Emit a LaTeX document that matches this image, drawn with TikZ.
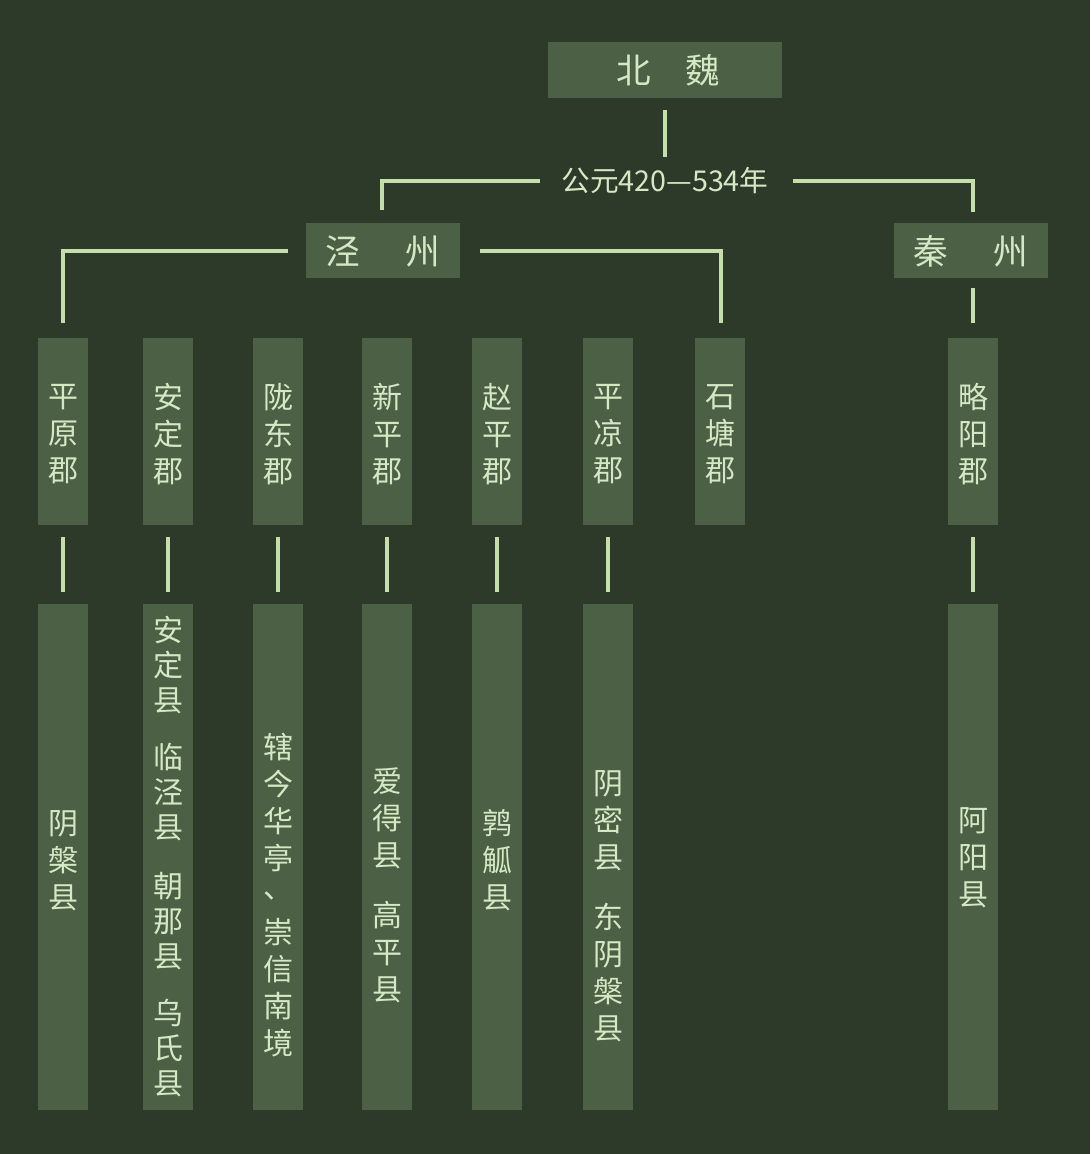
\documentclass[tikz,border=0pt]{standalone}
\usepackage{fontspec}
\setmainfont{Noto Sans CJK SC}
\definecolor{bg}{HTML}{2D3A29}
\definecolor{boxc}{HTML}{4B6045}
\definecolor{txt}{HTML}{D5E8C4}
\definecolor{ln}{HTML}{C4DEAC}
\begin{document}
\begin{tikzpicture}[x=0.75pt,y=-0.75pt,
 bx/.style={fill=boxc,draw=none},
 t/.style={text=txt,font=\fontsize{22.5}{27.75}\selectfont,align=center,inner sep=0pt},
 big/.style={t,font=\fontsize{26}{30}\selectfont},
 ln/.style={draw=ln,line width=3pt}]
\fill[bg] (0,0) rectangle (1090,1154);
\useasboundingbox (0,0) rectangle (1090,1154);
% top
\fill[bx] (548,42) rectangle (782,98);
\node[big] (bw) at (668,70) {北\hspace{1em}魏};
\node[t,font=\fontsize{21.5}{24}\selectfont] (gy) at (665,181) {公元420—534年};
\draw[ln] (665,110) -- (665,157);
\draw[ln] (540,181) -- (382,181) -- (382,210);
\draw[ln] (793,181) -- (973,181) -- (973,212);
\fill[bx] (306,223) rectangle (460,278);
\node[big] (jz) at (383,251) {泾\hspace{1.3em}州};
\fill[bx] (894,223) rectangle (1048,278);
\node[big] (qz) at (971,251) {秦\hspace{1.3em}州};
\draw[ln] (288,251) -- (63,251) -- (63,323);
\draw[ln] (480,251) -- (721,251) -- (721,323);
\draw[ln] (973,288) -- (973,323);
% columns
\foreach \x/\s in {63/平\\原\\郡,168/安\\定\\郡,278/陇\\东\\郡,387/新\\平\\郡,497/赵\\平\\郡,608/平\\凉\\郡,720/石\\塘\\郡,973/略\\阳\\郡}{
 \fill[bx] (\x-25,338) rectangle (\x+25,525);
 \node[t] at (\x,434) {\s};
}
\foreach \x in {63,168,278,387,497,608,973}{
 \fill[bx] (\x-25,604) rectangle (\x+25,1110);
 \draw[ln] (\x,537) -- (\x,592);
}
\node[t] (c1) at (63,861) {阴\\槃\\县};
\node[t,font=\fontsize{22.5}{26.25}\selectfont] (c2) at (168,857) {安\\定\\县\\[16.5pt]临\\泾\\县\\[18pt]朝\\那\\县\\[16.5pt]乌\\氏\\县};
\node[t] (c3) at (278,895) {辖\\今\\华\\亭\\[-6pt]、\\[6pt]崇\\信\\南\\境};
\node[t] (c4) at (387,885) {爱\\得\\县\\[17pt]高\\平\\县};
\node[t] (c5) at (497,860) {鹑\\觚\\县};
\node[t] (c6) at (608,906) {阴\\密\\县\\[17pt]东\\阴\\槃\\县};
\node[t] (c8) at (973,858) {阿\\阳\\县};
\end{tikzpicture}
\end{document}
